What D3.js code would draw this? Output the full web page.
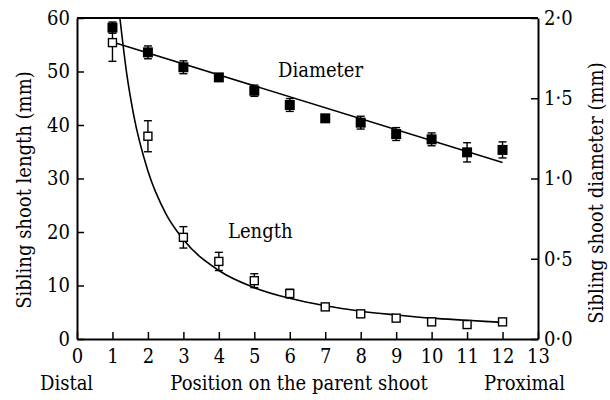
<!DOCTYPE html>
<html>
<head>
<meta charset="utf-8">
<script src="https://cdn.jsdelivr.net/npm/d3@7"></script>
<style>
  body { margin: 0; background: #fff; }
</style>
</head>
<body>
<svg id="canvas" width="610" height="400"></svg>
<script>
// positions on the parent shoot
const positions = [1, 2, 3, 4, 5, 6, 7, 8, 9, 10, 11, 12]

// sibling shoot length (mm), open squares
const lengthMean = [55.4, 37.9, 19.0, 14.5, 10.9, 8.5, 6.0, 4.7, 3.9, 3.2, 2.7, 3.2]
const lengthErr  = [3.5, 2.9, 2.0, 1.7, 1.3, 0.8, 0.3, 0.3, 0.3, 0.2, 0.2, 0.2]

// sibling shoot diameter (mm), filled squares
const diamMean = [1.94, 1.786, 1.693, 1.630, 1.547, 1.458, 1.375, 1.348, 1.277, 1.244, 1.163, 1.178]
const diamErr  = [0.035, 0.04, 0.04, 0.02, 0.035, 0.04, 0.015, 0.04, 0.04, 0.04, 0.06, 0.05]

// fitted curves
const lengthFitX = [1.21, 1.4, 1.6, 2, 2.5, 3, 4, 5, 6, 7, 8, 9, 10, 11, 12]
const lengthFitY = [60, 49.7, 41.8, 31.4, 23.5, 18.6, 12.8, 9.6, 7.6, 6.2, 5.2, 4.5, 3.9, 3.5, 3.1]
const diamFitX = [1, 12]
const diamFitY = [1.85, 1.10]

const xTicks = d3.range(0, 14)
const leftTicks = [0, 10, 20, 30, 40, 50, 60]
const rightTicks = [0, 0.5, 1, 1.5, 2]

const serif = "'DejaVu Serif Condensed', 'DejaVu Serif', serif"

let canvas = d3.select("#canvas")

const mLeft = 77, mRight = 538, mTop = 18, mBottom = 339

let x = d3.scaleLinear().domain([0, 13]).range([mLeft, mRight])
let yL = d3.scaleLinear().domain([0, 60]).range([mBottom, mTop])
let yR = d3.scaleLinear().domain([0, 2]).range([mBottom, mTop])

const fmt = (d) => d.toFixed(1).replace(".", "\u00b7")

// axes (ticks point inward)
canvas.append("g")
  .attr("transform", "translate(0," + mBottom + ")")
  .call(d3.axisBottom(x).tickValues(xTicks).tickSizeInner(-7).tickSizeOuter(0).tickPadding(10))
canvas.append("g")
  .attr("transform", "translate(" + mLeft + ",0)")
  .call(d3.axisLeft(yL).tickValues(leftTicks).tickSizeInner(-7).tickSizeOuter(0).tickPadding(7))
canvas.append("g")
  .attr("transform", "translate(" + mRight + ",0)")
  .call(d3.axisRight(yR).tickValues(rightTicks).tickFormat(fmt).tickSizeInner(-7).tickSizeOuter(0).tickPadding(6))

canvas.selectAll(".domain").attr("stroke", "#000").attr("stroke-width", 2)
canvas.selectAll(".tick line").attr("stroke", "#000").attr("stroke-width", 1.5)
canvas.selectAll(".tick text")
  .attr("font-family", serif)
  .style("font-family", serif)
  .style("font-size", "20px")
  .attr("fill", "#000")

// top border
canvas.append("line")
  .attr("x1", mLeft).attr("x2", mRight)
  .attr("y1", mTop).attr("y2", mTop)
  .attr("stroke", "#000").attr("stroke-width", 2)

// fitted lines
let lineL = d3.line().x((d) => x(d[0])).y((d) => yL(d[1])).curve(d3.curveMonotoneX)
canvas.append("path")
  .datum(lengthFitX.map((v, i) => [v, lengthFitY[i]]))
  .attr("d", lineL)
  .attr("fill", "none").attr("stroke", "#000").attr("stroke-width", 1.6)

let lineR = d3.line().x((d) => x(d[0])).y((d) => yR(d[1]))
canvas.append("path")
  .datum(diamFitX.map((v, i) => [v, diamFitY[i]]))
  .attr("d", lineR)
  .attr("fill", "none").attr("stroke", "#000").attr("stroke-width", 1.6)

// error bars
function errorBars(means, errs, y) {
  const g = canvas.append("g")
  positions.forEach((p, i) => {
    const cx = x(p)
    const y1 = y(means[i] + errs[i]), y2 = y(means[i] - errs[i])
    g.append("line").attr("x1", cx).attr("x2", cx).attr("y1", y1).attr("y2", y2)
      .attr("stroke", "#000").attr("stroke-width", 1.4)
    ;[y1, y2].forEach((yy) => {
      g.append("line").attr("x1", cx - 4).attr("x2", cx + 4).attr("y1", yy).attr("y2", yy)
        .attr("stroke", "#000").attr("stroke-width", 1.4)
    })
  })
}
errorBars(lengthMean, lengthErr, yL)
errorBars(diamMean, diamErr, yR)

// markers
canvas.append("g").selectAll("rect")
  .data(positions)
  .enter()
  .append("rect")
  .attr("x", (d) => x(d) - 5)
  .attr("y", (d, i) => yR(diamMean[i]) - 5)
  .attr("width", 10).attr("height", 10)
  .attr("fill", "#000")

canvas.append("g").selectAll("rect")
  .data(positions)
  .enter()
  .append("rect")
  .attr("x", (d) => x(d) - 4)
  .attr("y", (d, i) => yL(lengthMean[i]) - 4)
  .attr("width", 8).attr("height", 8)
  .attr("fill", "#fff").attr("stroke", "#000").attr("stroke-width", 1.4)

// labels
const label = (t, px, py, anchor, rot) => {
  let el = canvas.append("text").text(t)
    .attr("font-family", serif)
    .style("font-family", serif)
    .style("font-size", "20px")
    .attr("fill", "#000")
    .attr("text-anchor", anchor || "start")
  if (rot) {
    el.attr("transform", "translate(" + px + "," + py + ") rotate(" + rot + ")")
  } else {
    el.attr("x", px).attr("y", py)
  }
}
label("Diameter", 278, 77)
label("Length", 228, 238)
label("Distal", 40, 390)
label("Position on the parent shoot", 299, 390, "middle")
label("Proximal", 565, 390, "end")
label("Sibling shoot length (mm)", 31, 190, "middle", -90)
label("Sibling shoot diameter (mm)", 603, 193, "middle", -90)
</script>
</body>
</html>
